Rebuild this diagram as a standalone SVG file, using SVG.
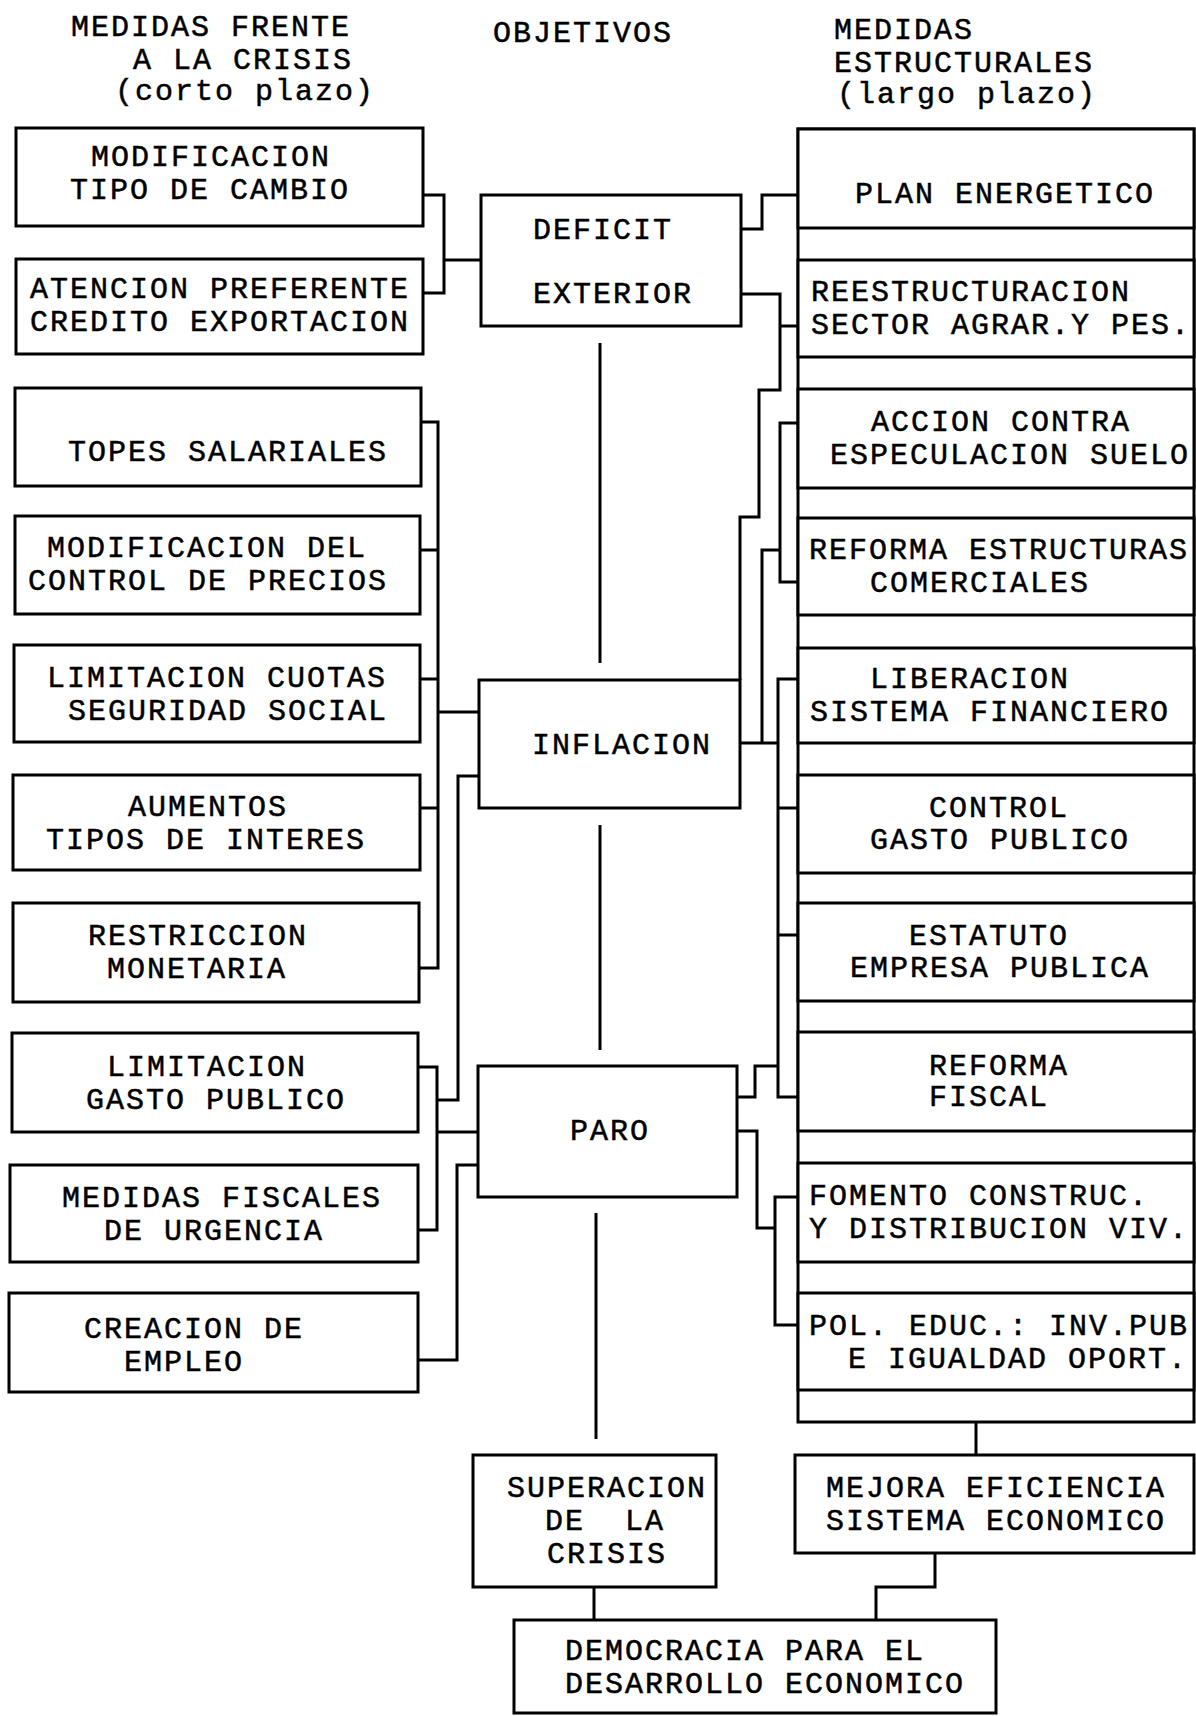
<svg xmlns="http://www.w3.org/2000/svg" width="1196" height="1716" viewBox="0 0 1196 1716">
<style>
.box{fill:#fff;stroke:#000;stroke-width:3}
.t{font-family:"Liberation Mono","Courier New",monospace;font-size:30px;letter-spacing:2px;fill:#000;stroke:#000;stroke-width:0.5}
.c{fill:none;stroke:#000;stroke-width:3}
</style>
<rect width="1196" height="1716" fill="#fff"/>
<g id="headers" class="t">
<text x="71" y="36">MEDIDAS FRENTE</text>
<text x="133" y="69">A LA CRISIS</text>
<text x="115" y="100">(corto plazo)</text>
<text x="493" y="42">OBJETIVOS</text>
<text x="834" y="39">MEDIDAS</text>
<text x="834" y="72">ESTRUCTURALES</text>
<text x="837" y="103">(largo plazo)</text>
</g>
<g id="left-nodes">
<g id="n-tipo-cambio"><rect class="box" x="16" y="128" width="407" height="98"/><text class="t" x="91" y="166">MODIFICACION</text><text class="t" x="70" y="199">TIPO DE CAMBIO</text></g>
<g id="n-credito-export"><rect class="box" x="16" y="259" width="407" height="95"/><text class="t" x="30" y="298">ATENCION PREFERENTE</text><text class="t" x="30" y="331">CREDITO EXPORTACION</text></g>
<g id="n-topes"><rect class="box" x="15" y="388" width="406" height="98"/><text class="t" x="68" y="461">TOPES SALARIALES</text></g>
<g id="n-precios"><rect class="box" x="15" y="516" width="405" height="98"/><text class="t" x="47" y="557">MODIFICACION DEL</text><text class="t" x="28" y="590">CONTROL DE PRECIOS</text></g>
<g id="n-cuotas"><rect class="box" x="14" y="645" width="406" height="97"/><text class="t" x="47" y="687">LIMITACION CUOTAS</text><text class="t" x="68" y="720">SEGURIDAD SOCIAL</text></g>
<g id="n-interes"><rect class="box" x="13" y="775" width="407" height="95"/><text class="t" x="128" y="816">AUMENTOS</text><text class="t" x="46" y="849">TIPOS DE INTERES</text></g>
<g id="n-monetaria"><rect class="box" x="13" y="903" width="406" height="99"/><text class="t" x="88" y="945">RESTRICCION</text><text class="t" x="107" y="978">MONETARIA</text></g>
<g id="n-lim-gasto"><rect class="box" x="12" y="1033" width="406" height="99"/><text class="t" x="107" y="1076">LIMITACION</text><text class="t" x="86" y="1109">GASTO PUBLICO</text></g>
<g id="n-fiscales"><rect class="box" x="10" y="1165" width="408" height="97"/><text class="t" x="62" y="1207">MEDIDAS FISCALES</text><text class="t" x="104" y="1240">DE URGENCIA</text></g>
<g id="n-empleo"><rect class="box" x="9" y="1293" width="409" height="99"/><text class="t" x="84" y="1338">CREACION DE</text><text class="t" x="124" y="1371">EMPLEO</text></g>
</g>
<g id="center-nodes">
<g id="n-deficit"><rect class="box" x="481" y="195" width="260" height="131"/><text class="t" x="533" y="239">DEFICIT</text><text class="t" x="533" y="303">EXTERIOR</text></g>
<g id="n-inflacion"><rect class="box" x="479" y="680" width="261" height="128"/><text class="t" x="532" y="754">INFLACION</text></g>
<g id="n-paro"><rect class="box" x="478" y="1066" width="259" height="131"/><text class="t" x="570" y="1140">PARO</text></g>
<g id="n-superacion"><rect class="box" x="473" y="1455" width="243" height="132"/><text class="t" x="507" y="1497">SUPERACION</text><text class="t" x="545" y="1530" xml:space="preserve">DE  LA</text><text class="t" x="547" y="1563">CRISIS</text></g>
<g id="n-mejora"><rect class="box" x="795" y="1455" width="399" height="98"/><text class="t" x="826" y="1497">MEJORA EFICIENCIA</text><text class="t" x="826" y="1530">SISTEMA ECONOMICO</text></g>
<g id="n-democracia"><rect class="box" x="514" y="1620" width="482" height="93"/><text class="t" x="565" y="1660">DEMOCRACIA PARA EL</text><text class="t" x="565" y="1693">DESARROLLO ECONOMICO</text></g>
</g>
<g id="right-nodes">
<rect id="estructurales-frame" class="box" x="798" y="129" width="396" height="1293"/>
<g id="n-energetico"><rect class="box" x="798" y="129" width="396" height="99"/><text class="t" x="855" y="203">PLAN ENERGETICO</text></g>
<g id="n-agrar"><rect class="box" x="798" y="260" width="396" height="97"/><text class="t" x="811" y="301">REESTRUCTURACION</text><text class="t" x="811" y="334">SECTOR AGRAR.Y PES.</text></g>
<g id="n-suelo"><rect class="box" x="798" y="389" width="396" height="99"/><text class="t" x="871" y="431">ACCION CONTRA</text><text class="t" x="830" y="464">ESPECULACION SUELO</text></g>
<g id="n-comerciales"><rect class="box" x="798" y="518" width="396" height="97"/><text class="t" x="809" y="559">REFORMA ESTRUCTURAS</text><text class="t" x="870" y="592">COMERCIALES</text></g>
<g id="n-financiero"><rect class="box" x="798" y="648" width="396" height="95"/><text class="t" x="870" y="688">LIBERACION</text><text class="t" x="810" y="721">SISTEMA FINANCIERO</text></g>
<g id="n-control-gasto"><rect class="box" x="798" y="775" width="396" height="98"/><text class="t" x="929" y="817">CONTROL</text><text class="t" x="870" y="849">GASTO PUBLICO</text></g>
<g id="n-estatuto"><rect class="box" x="798" y="903" width="396" height="98"/><text class="t" x="909" y="945">ESTATUTO</text><text class="t" x="850" y="977">EMPRESA PUBLICA</text></g>
<g id="n-reforma-fiscal"><rect class="box" x="798" y="1032" width="396" height="99"/><text class="t" x="929" y="1075">REFORMA</text><text class="t" x="929" y="1106">FISCAL</text></g>
<g id="n-vivienda"><rect class="box" x="798" y="1163" width="396" height="99"/><text class="t" x="809" y="1205">FOMENTO CONSTRUC.</text><text class="t" x="809" y="1238">Y DISTRIBUCION VIV.</text></g>
<g id="n-educacion"><rect class="box" x="798" y="1293" width="396" height="97"/><text class="t" x="809" y="1335">POL. EDUC.: INV.PUB</text><text class="t" x="848" y="1368">E IGUALDAD OPORT.</text></g>
</g>
<g id="connectors" class="c">
<path d="M423 195H444V293H423M444 260H481"/>
<path d="M421 422H438V968H419M420 550H438M420 679H438M420 808H438M438 712H479"/>
<path d="M479 776H458V1100H438"/>
<path d="M418 1067H437V1230H418M437 1132H478"/>
<path d="M478 1165H457V1360H418"/>
<path d="M741 229H762V195H798"/>
<path d="M741 294H780V326H798M780 326V390H759V517H740V680"/>
<path d="M798 423H780V582H798M780 550H762V743"/>
<path d="M740 743H778"/>
<path d="M798 679H778V1097H798M778 808H798M778 935H798M737 1097H755V1066H778"/>
<path d="M798 1197H775V1325H798M737 1131H757V1228H775"/>
<path d="M976 1422V1455"/>
<path d="M594 1587V1620"/>
<path d="M935 1553V1587H876V1620"/>
<path d="M600 343V663M600 825V1050M596 1213V1439"/>
</g>
</svg>
